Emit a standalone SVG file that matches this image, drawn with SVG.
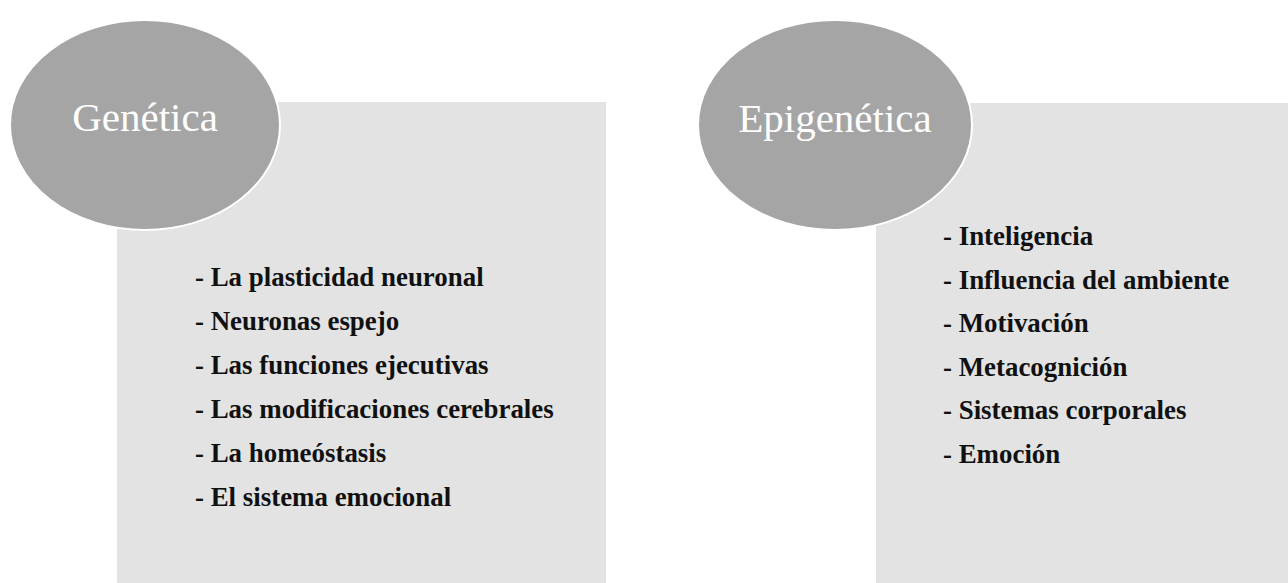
<svg xmlns="http://www.w3.org/2000/svg" width="1288" height="583" viewBox="0 0 1288 583">
<style>
.panel{fill:#e2e3e2}
.bubble{fill:#a5a5a5;stroke:#ffffff;stroke-width:2}
.title{font-family:"Liberation Serif","Times New Roman",serif;font-size:41px;fill:#ffffff}
.item{font-family:"Liberation Serif","Times New Roman",serif;font-size:26.9px;font-weight:bold;fill:#111111}
</style>
<rect width="1288" height="583" fill="#ffffff"/>
<g id="genetica">
<rect class="panel" x="117" y="102" width="489" height="481"/>
<ellipse class="bubble" cx="145" cy="125" rx="135" ry="105"/>
<text class="title" x="145" y="131" text-anchor="middle">Genética</text>
<text class="item" x="195" y="286">- La plasticidad neuronal</text>
<text class="item" x="195" y="330">- Neuronas espejo</text>
<text class="item" x="195" y="374">- Las funciones ejecutivas</text>
<text class="item" x="195" y="418">- Las modificaciones cerebrales</text>
<text class="item" x="195" y="462">- La homeóstasis</text>
<text class="item" x="195" y="506">- El sistema emocional</text>
</g>
<g id="epigenetica">
<rect class="panel" x="876" y="103" width="412" height="480"/>
<ellipse class="bubble" cx="835" cy="125" rx="137" ry="105"/>
<text class="title" x="835" y="132" text-anchor="middle">Epigenética</text>
<text class="item" x="943" y="245">- Inteligencia</text>
<text class="item" x="943" y="289">- Influencia del ambiente</text>
<text class="item" x="943" y="332">- Motivación</text>
<text class="item" x="943" y="376">- Metacognición</text>
<text class="item" x="943" y="419">- Sistemas corporales</text>
<text class="item" x="943" y="463">- Emoción</text>
</g>
<g id="connectors"/>
</svg>
